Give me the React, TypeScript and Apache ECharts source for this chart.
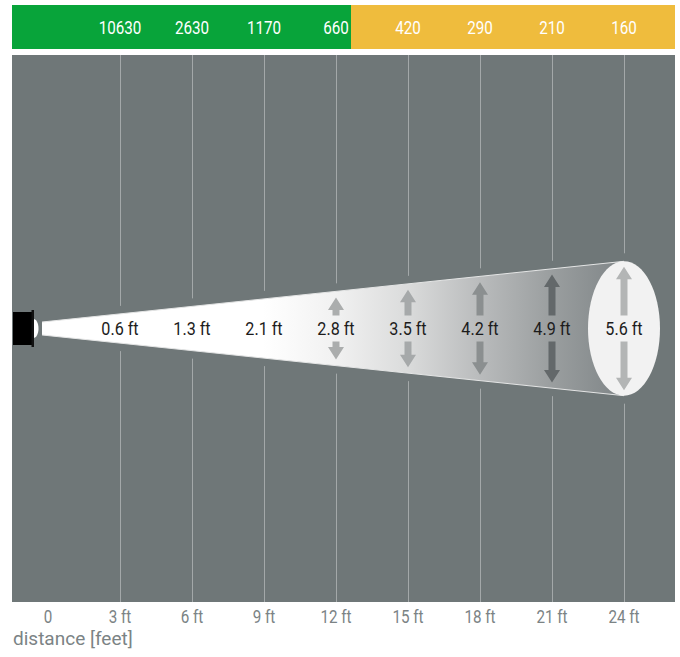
import React, { useEffect, useRef } from "react";
import * as echarts from "echarts";

// ---- data ----
const distances = [3, 6, 9, 12, 15, 18, 21, 24];
const illuminance = [10630, 2630, 1170, 660, 420, 290, 210, 160];
const beamDiameters = [0.6, 1.3, 2.1, 2.8, 3.5, 4.2, 4.9, 5.6];
const tickValues = [0, 3, 6, 9, 12, 15, 18, 21, 24];
const tickLabels = ["0", "3 ft", "6 ft", "9 ft", "12 ft", "15 ft", "18 ft", "21 ft", "24 ft"];
const bandEdges = [-1.5, 12.625, 26.125];
const axisTitle = "distance [feet]";

// ---- layout / style ----
const X_MIN = -1.5;
const X_MAX = 26.125;
const Y_MIN = -11.4;
const Y_MAX = 11.4;
const BEAM_START_X = -0.25;
const BEAM_START_HALF = 0.27;
const ELLIPSE_RX = 1.5;
const ARROW_SCALE = 0.46;
const FONT = "Roboto, 'Noto Sans', sans-serif";
const bandColors = ["#08a43a", "#efbc3d"];
const arrowColors = [null, null, null, "#abadad", "#a6a9aa", "#8b8f90", "#63686a", "#b3b5b5"];
const PANEL = "#6f7778";
const GRIDLINE = "#a3a8a9";
const AXIS_TEXT = "#7b8385";

const beamEndX = distances[distances.length - 1];
const beamEndHalf = beamDiameters[beamDiameters.length - 1] / 2;
const beamHalf = (x: number) =>
  BEAM_START_HALF + ((beamEndHalf - BEAM_START_HALF) * (x - BEAM_START_X)) / (beamEndX - BEAM_START_X);

export default function App() {
  const ref = useRef<HTMLDivElement>(null);
  useEffect(() => {
    const chart = echarts.init(ref.current!, null, { renderer: "svg" });
    const option: any = {
      animation: false,
      grid: [
        { left: 12, top: 55, width: 663, height: 547, show: true, backgroundColor: PANEL, borderWidth: 0 },
        { left: 12, top: 5, width: 663, height: 44 },
      ],
      xAxis: [
        {
          type: "value",
          gridIndex: 0,
          min: X_MIN,
          max: X_MAX,
          axisLine: { show: false },
          axisTick: { show: false },
          splitLine: { show: false },
          axisLabel: { show: false },
        },
        { type: "value", gridIndex: 1, min: X_MIN, max: X_MAX, show: false },
      ],
      yAxis: [
        { type: "value", gridIndex: 0, min: Y_MIN, max: Y_MAX, show: false },
        { type: "value", gridIndex: 1, min: 0, max: 1, show: false },
      ],
      graphic: [
        {
          type: "text",
          x: 13,
          y: 638,
          style: {
            text: axisTitle,
            fill: AXIS_TEXT,
            fontSize: 19,
            fontFamily: FONT,
            verticalAlign: "middle",
          },
        },
      ],
      series: [
        // band backgrounds
        {
          type: "custom",
          xAxisIndex: 1,
          yAxisIndex: 1,
          z: 1,
          data: bandEdges.slice(0, -1).map((e, i) => [e, bandEdges[i + 1]]),
          renderItem: (params: any, api: any) => {
            const a = api.coord([api.value(0), 1]);
            const b = api.coord([api.value(1), 0]);
            return {
              type: "rect",
              shape: { x: a[0], y: a[1], width: b[0] - a[0], height: b[1] - a[1] },
              style: { fill: bandColors[params.dataIndex] },
            };
          },
        },
        // band values
        {
          type: "custom",
          xAxisIndex: 1,
          yAxisIndex: 1,
          z: 2,
          data: distances.map((d, i) => [d, illuminance[i]]),
          renderItem: (params: any, api: any) => {
            const c = api.coord([api.value(0), 0.5]);
            return {
              type: "text",
              x: c[0],
              y: c[1],
              scaleX: 0.8,
              style: {
                text: String(api.value(1)),
                fill: "#ffffff",
                fontSize: 19,
                fontFamily: FONT,
                align: "center",
                verticalAlign: "middle",
              },
            };
          },
        },
        // x tick labels
        {
          type: "custom",
          xAxisIndex: 0,
          yAxisIndex: 0,
          z: 2,
          clip: false,
          data: tickValues.map((v, i) => [v, i]),
          renderItem: (params: any, api: any) => {
            const c = api.coord([api.value(0), Y_MIN]);
            return {
              type: "text",
              x: c[0],
              y: c[1] + 14.5,
              scaleX: 0.8,
              style: {
                text: tickLabels[api.value(1)],
                fill: AXIS_TEXT,
                fontSize: 19,
                fontFamily: FONT,
                align: "center",
                verticalAlign: "middle",
              },
            };
          },
        },
        // grid lines with gaps around the beam
        {
          type: "custom",
          xAxisIndex: 0,
          yAxisIndex: 0,
          z: 2,
          data: distances.map((d) => [d]),
          renderItem: (params: any, api: any) => {
            const x = api.value(0);
            const h = beamHalf(x);
            const top = api.coord([x, Y_MAX]);
            const a = api.coord([x, h]);
            const b = api.coord([x, -h]);
            const bot = api.coord([x, Y_MIN]);
            const px = Math.round(top[0]) + 0.5;
            const st = { stroke: GRIDLINE, lineWidth: 1 };
            return {
              type: "group",
              children: [
                { type: "line", shape: { x1: px, y1: top[1], x2: px, y2: a[1] - 8 }, style: st },
                { type: "line", shape: { x1: px, y1: b[1] + 8, x2: px, y2: bot[1] }, style: st },
              ],
            };
          },
        },
        // beam, lens end, lamp
        {
          type: "custom",
          xAxisIndex: 0,
          yAxisIndex: 0,
          z: 3,
          encode: { x: [0, 2], y: [1, 3] },
          data: [[BEAM_START_X, BEAM_START_HALF, beamEndX, beamEndHalf]],
          renderItem: (params: any, api: any) => {
            const sx = api.value(0), sh = api.value(1), ex = api.value(2), eh = api.value(3);
            const p0t = api.coord([sx, sh]);
            const p0b = api.coord([sx, -sh]);
            const p1t = api.coord([ex, eh]);
            const p1b = api.coord([ex, -eh]);
            const c1 = api.coord([ex, 0]);
            const c0 = api.coord([sx, 0]);
            const rx = api.size([ELLIPSE_RX, 0])[0];
            const ry = (p1b[1] - p1t[1]) / 2;
            const grad = new echarts.graphic.LinearGradient(0, 0, 1, 0, [
              { offset: 0, color: "#ffffff" },
              { offset: 0.38, color: "#ffffff" },
              { offset: 0.505, color: "#f1f1f1" },
              { offset: 0.629, color: "#dadbdb" },
              { offset: 0.753, color: "#b9bbbc" },
              { offset: 0.876, color: "#9a9e9f" },
              { offset: 1, color: "#7f8587" },
            ]);
            const lx = c0[0];
            const ly = c0[1];
            return {
              type: "group",
              children: [
                {
                  type: "polygon",
                  shape: { points: [p0t, p1t, p1b, p0b] },
                  style: { fill: grad },
                },
                { type: "line", shape: { x1: p0t[0], y1: p0t[1], x2: p1t[0], y2: p1t[1] }, style: { stroke: "#e4e5e5", lineWidth: 1 } },
                { type: "line", shape: { x1: p0b[0], y1: p0b[1], x2: p1b[0], y2: p1b[1] }, style: { stroke: "#e4e5e5", lineWidth: 1 } },
                { type: "ellipse", shape: { cx: c1[0], cy: c1[1], rx, ry }, style: { fill: "#f2f2f2" } },
                { type: "ellipse", shape: { cx: lx - 8.5, cy: ly, rx: 5, ry: 9.5 }, style: { fill: "#ffffff" } },
                { type: "rect", shape: { x: lx - 29, y: ly - 16.5, width: 20, height: 33 }, style: { fill: "#000000" } },
                { type: "rect", shape: { x: lx - 10.5, y: ly - 18.5, width: 2.5, height: 37 }, style: { fill: "#111111" } },
              ],
            };
          },
        },
        // beam diameter labels with arrows
        {
          type: "custom",
          xAxisIndex: 0,
          yAxisIndex: 0,
          z: 4,
          data: distances.map((d, i) => [d, beamDiameters[i]]),
          renderItem: (params: any, api: any) => {
            const x = api.value(0);
            const dia = api.value(1);
            const c = api.coord([x, 0]);
            const children: any[] = [
              {
                type: "text",
                x: c[0],
                y: c[1] + 0.5,
                scaleX: 0.85,
                style: {
                  text: dia.toFixed(1) + " ft",
                  fill: "#1c1c1c",
                  fontSize: 19,
                  fontFamily: FONT,
                  align: "center",
                  verticalAlign: "middle",
                },
              },
            ];
            const col = arrowColors[params.dataIndex];
            if (col) {
              const tip = api.coord([x, dia * ARROW_SCALE]);
              const outer = c[1] - tip[1];
              const inner = 13;
              const hh = 12.5, hw = 8, sw = 3.5;
              const cx = c[0], cy = c[1];
              for (const s of [-1, 1]) {
                children.push({
                  type: "polygon",
                  shape: {
                    points: [
                      [cx - sw, cy + s * inner],
                      [cx - sw, cy + s * (outer - hh)],
                      [cx - hw, cy + s * (outer - hh)],
                      [cx, cy + s * outer],
                      [cx + hw, cy + s * (outer - hh)],
                      [cx + sw, cy + s * (outer - hh)],
                      [cx + sw, cy + s * inner],
                    ],
                  },
                  style: { fill: col },
                });
              }
            }
            return { type: "group", children };
          },
        },
      ],
    };
    chart.setOption(option);
    return () => chart.dispose();
  }, []);
  return (
    <div
      ref={ref}
      style={{ position: "absolute", left: 0, top: 0, width: 680, height: 657 }}
    />
  );
}
